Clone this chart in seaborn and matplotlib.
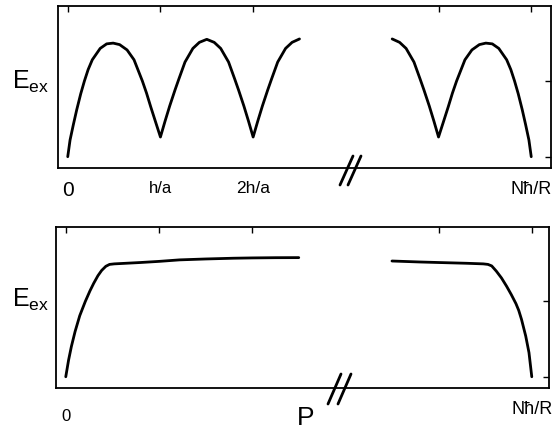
import numpy as np
import pandas as pd
import seaborn as sns
import matplotlib.pyplot as plt
from matplotlib.lines import Line2D

# momentum in units of h/a (tick 3 is the break), energy in arbitrary units
top_left_x = [0, 0.025, 0.06, 0.097, 0.14, 0.18, 0.22, 0.265, 0.35, 0.42, 0.49, 0.56, 0.64, 0.715, 0.805, 0.85, 0.895, 0.95, 1.0,
              1.05, 1.1, 1.157, 1.2, 1.265, 1.35, 1.42, 1.5, 1.58, 1.65, 1.735, 1.8, 1.843, 1.9, 1.95, 2.0,
              2.05, 2.1, 2.157, 2.2, 2.265, 2.35, 2.42, 2.5]
top_left_y = [0, 0.22, 0.42, 0.62, 0.83, 1.0, 1.15, 1.28, 1.43, 1.49, 1.50, 1.48, 1.41, 1.28, 1.0, 0.84, 0.66, 0.45, 0.26,
              0.47, 0.67, 0.88, 1.03, 1.25, 1.43, 1.51, 1.55, 1.51, 1.43, 1.25, 1.03, 0.88, 0.67, 0.47, 0.26,
              0.47, 0.67, 0.88, 1.03, 1.25, 1.43, 1.51, 1.555]
top_right_x = [3.5, 3.58, 3.65, 3.735, 3.8, 3.843, 3.9, 3.95, 4.0,
               4.05, 4.105, 4.15, 4.195, 4.285, 4.36, 4.44, 4.51, 4.58, 4.65, 4.735, 4.78, 4.82, 4.86, 4.903, 4.94, 4.975, 5.0]
top_right_y = [1.555, 1.51, 1.43, 1.25, 1.03, 0.88, 0.67, 0.47, 0.26,
               0.45, 0.66, 0.84, 1.0, 1.28, 1.41, 1.48, 1.50, 1.49, 1.43, 1.28, 1.15, 1.0, 0.83, 0.62, 0.42, 0.22, 0]

bot_left_x = [0, 0.03, 0.06, 0.1, 0.15, 0.21, 0.26, 0.30, 0.345, 0.385, 0.43, 0.47, 0.52, 0.8, 1.0, 1.22, 1.5, 1.8, 2.0, 2.25, 2.5]
bot_left_y = [0, 0.22, 0.40, 0.6, 0.81, 1.0, 1.14, 1.24, 1.34, 1.41, 1.465, 1.49, 1.497, 1.515, 1.53, 1.55, 1.562, 1.572, 1.576, 1.579, 1.58]
bot_right_x = [3.5, 3.8, 4.0, 4.3, 4.48, 4.53, 4.57, 4.62, 4.675, 4.73, 4.78, 4.83, 4.86, 4.89, 4.935, 4.97, 5.0]
bot_right_y = [1.535, 1.522, 1.515, 1.505, 1.497, 1.49, 1.47, 1.40, 1.31, 1.20, 1.09, 0.97, 0.88, 0.76, 0.54, 0.32, 0.0]

tick_pos = [0, 1, 2, 4, 5]
top_labels = ['0', 'h/a', '2h/a', '', 'N\u0127/R']
bot_labels = ['0', '', '', '', 'N\u0127/R']

sns.set_style('white')
plt.rcParams['font.family'] = ['Liberation Sans', 'DejaVu Sans']
plt.rcParams['mathtext.default'] = 'regular'
plt.rcParams['text.color'] = 'black'
plt.rcParams['axes.labelcolor'] = 'black'

fig = plt.figure(figsize=(5.56, 4.29), dpi=100)
W, H = 556.0, 429.0
ax1 = fig.add_axes([58 / W, 1 - 168.3 / H, 492.7 / W, 162.3 / H])
ax2 = fig.add_axes([55.7 / W, 1 - 388.3 / H, 493.6 / W, 161.6 / H])

for ax, segs in [(ax1, [(top_left_x, top_left_y), (top_right_x, top_right_y)]),
                 (ax2, [(bot_left_x, bot_left_y), (bot_right_x, bot_right_y)])]:
    for xs, ys in segs:
        df = pd.DataFrame({'p': xs, 'E': ys})
        sns.lineplot(data=df, x='p', y='E', ax=ax, color='black', lw=2,
                     estimator=None, sort=False)
    ax.set_ylim(-0.153, 1.99)
    ax.set_yticks([0, 1])
    ax.set_yticklabels([])
    ax.set_xticks(tick_pos)
    ax.tick_params(direction='in', length=4, width=1, top=True, right=True,
                   colors='black', labelcolor='black', pad=9)
    for s in ax.spines.values():
        s.set_linewidth(1.3)
        s.set_color('black')
    ax.set_xlabel('')

ax1.set_xlim(-0.105, 5.21)
ax2.set_xlim(-0.108, 5.188)

ax1.set_xticklabels(top_labels)
for lab, fs in zip(ax1.get_xticklabels(), [15, 12, 12.5, 12, 13]):
    lab.set_fontsize(fs)
ax2.set_xticklabels(bot_labels)
for lab, fs in zip(ax2.get_xticklabels(), [12, 12, 12, 12, 13]):
    lab.set_fontsize(fs)
ax2.get_xticklabels()[0].set_y(-0.05)

ax1.set_ylabel(r'$E_{ex}$', rotation=0, fontsize=18, ha='left', va='center', color='black')
ax1.yaxis.set_label_coords(-0.094, 0.53)
ax2.set_ylabel(r'$E_{ex}$', rotation=0, fontsize=18, ha='left', va='center', color='black')
ax2.yaxis.set_label_coords(-0.0885, 0.546)

ax2.set_xlabel('P', fontsize=19, va='top', color='black')
ax2.xaxis.set_label_coords(0.506, -0.112)

# axis break marks "//"
def brk(x0, y0, x1, y1):
    fig.add_artist(Line2D([x0 / W, x1 / W], [1 - y0 / H, 1 - y1 / H],
                          color='black', lw=2, transform=fig.transFigure))

brk(340, 185, 353, 156)
brk(348, 185, 361, 156)
brk(328, 404, 341, 374)
brk(338, 404, 351, 374)

fig.savefig('out.png', dpi=100)
